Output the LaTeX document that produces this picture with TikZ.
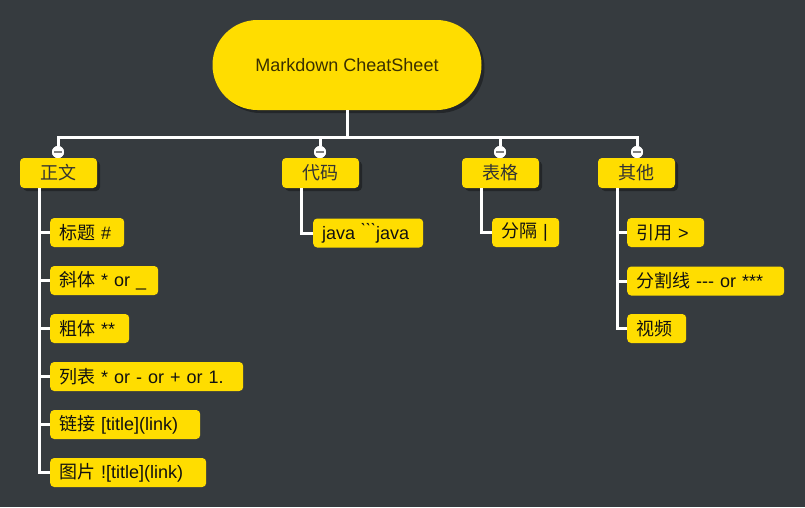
\documentclass[tikz,border=0pt]{standalone}
\usepackage{fontspec}
\setmainfont{Liberation Sans}
\newfontfamily\zhfont{Noto Sans CJK SC}
\newcommand{\zh}[1]{{\zhfont #1}}
\usetikzlibrary{shadows}

\definecolor{bgc}{HTML}{363B3F}
\definecolor{mdyellow}{HTML}{FFDD00}
\definecolor{roottext}{HTML}{3A3000}
\definecolor{topictext}{HTML}{333333}
\definecolor{leaftext}{HTML}{111111}

\tikzset{
    boxshadow/.style={drop shadow={shadow xshift=3pt, shadow yshift=-3pt, fill=black, opacity=0.35}},
    rootbox/.style={fill=mdyellow, rounded corners=45pt, minimum width=269pt, minimum height=90pt,
        text=roottext, font=\fontsize{18}{20}\selectfont, boxshadow},
    topicbox/.style={fill=mdyellow, rounded corners=4pt, minimum width=77pt, minimum height=30pt,
        inner sep=0pt, text=topictext, font=\fontsize{18}{20}\selectfont, boxshadow},
    leafbox/.style={fill=mdyellow, rounded corners=4pt, anchor=west, minimum height=29pt,
        inner xsep=9pt, inner ysep=0pt, text width=#1, align=left, text=leaftext,
        font=\fontsize{18}{20}\selectfont},
    link/.style={draw=white, line width=3pt},
    toggle/.style={circle, fill=white, minimum size=12pt, inner sep=0pt},
}

\begin{document}
\begin{tikzpicture}[x=1pt,y=-1pt]

        \fill [bgc] (0,0) rectangle (805,507);
        \useasboundingbox (0,0) rectangle (805,507);

        % root
        \node [rootbox] (root) at (347,65) {Markdown CheatSheet};

        % topics
        \node [topicbox] (zw) at (58.5,173) {\zh{正文}};
        \node [topicbox] (dm) at (320.5,173) {\zh{代码}};
        \node [topicbox] (bg) at (500.5,173) {\zh{表格}};
        \node [topicbox] (qt) at (636.5,173) {\zh{其他}};

        % leaves of zw
        \node [leafbox=56pt] (zw1) at (50,232.5) {\zh{标题} \#};
        \node [leafbox=90pt] (zw2) at (50,280.5) {\zh{斜体} * or \_};
        \node [leafbox=61pt] (zw3) at (50,328.5) {\zh{粗体} **};
        \node [leafbox=175pt] (zw4) at (50,376.5) {\zh{列表} * or - or + or 1.};
        \node [leafbox=132pt] (zw5) at (50,424.5) {\zh{链接} [title](link)};
        \node [leafbox=138pt] (zw6) at (50,472.5) {\zh{图片} ![title](link)};

        % leaves of dm, bg
        \node [leafbox=92pt] (dm1) at (313,233) {java \`{}\`{}\`{}java};
        \node [leafbox=49pt] (bg1) at (492,232.5) {\zh{分隔} |};

        % leaves of qt
        \node [leafbox=59pt] (qt1) at (627,232.5) {\zh{引用} >};
        \node [leafbox=139pt] (qt2) at (627,281) {\zh{分割线} -{}-{}- or ***};
        \node [leafbox=41pt] (qt3) at (627,328.5) {\zh{视频}};

        % bus
        \coordinate (busL) at (58,137);
        \coordinate (busR) at (637,137);
        \node [toggle] (t1) at (58,152) {};
        \node [toggle] (t2) at (320,152) {};
        \node [toggle] (t3) at (500,152) {};
        \node [toggle] (t4) at (637,152) {};

        \draw [link] (root.south) -- (root.south |- busL);
        \draw [link] (t1) |- (busR) -- (t4);
        \draw [link] (t2) -- (t2 |- busL);
        \draw [link] (t3) -- (t3 |- busL);

        \node [toggle] at (t1) {};
        \node [toggle] at (t2) {};
        \node [toggle] at (t3) {};
        \node [toggle] at (t4) {};
        \draw [gray, line width=1.3pt] ([xshift=-4pt]t1.center) -- ([xshift=4pt]t1.center);
        \draw [gray, line width=1.3pt] ([xshift=-4pt]t2.center) -- ([xshift=4pt]t2.center);
        \draw [gray, line width=1.3pt] ([xshift=-4pt]t3.center) -- ([xshift=4pt]t3.center);
        \draw [gray, line width=1.3pt] ([xshift=-4pt]t4.center) -- ([xshift=4pt]t4.center);

        % branch lines
        \coordinate (zwl) at ([xshift=20pt]zw.south west);
        \coordinate (dml) at ([xshift=20pt]dm.south west);
        \coordinate (bgl) at ([xshift=20pt]bg.south west);
        \coordinate (qtl) at ([xshift=20pt]qt.south west);

        \draw [link] (zwl) |- (zw1.west);
        \draw [link] (zwl) |- (zw2.west);
        \draw [link] (zwl) |- (zw3.west);
        \draw [link] (zwl) |- (zw4.west);
        \draw [link] (zwl) |- (zw5.west);
        \draw [link] (zwl) |- (zw6.west);

        \draw [link] (dml) |- (dm1.west);
        \draw [link] (bgl) |- (bg1.west);

        \draw [link] (qtl) |- (qt1.west);
        \draw [link] (qtl) |- (qt2.west);
        \draw [link] (qtl) |- (qt3.west);
    \end{tikzpicture}
\end{document}
